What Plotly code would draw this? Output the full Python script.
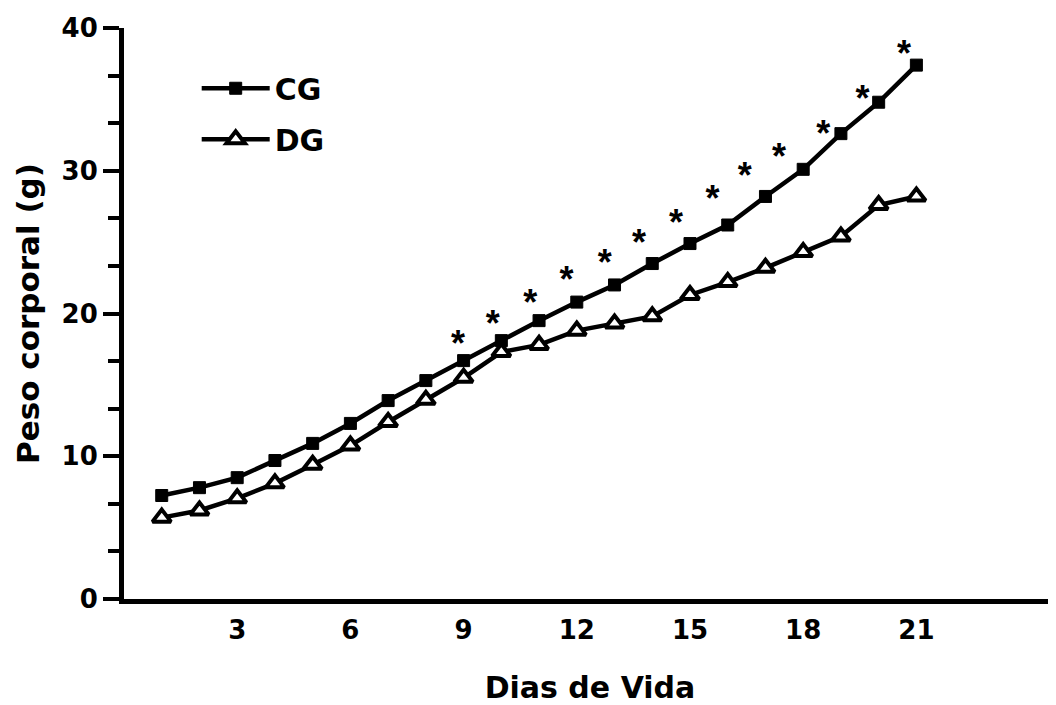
import plotly.graph_objects as go

# ---- data ----
days = list(range(1, 22))
cg = [7.25, 7.8, 8.5, 9.7, 10.9, 12.3, 13.9, 15.3, 16.7, 18.1, 19.5,
      20.8, 22.0, 23.5, 24.9, 26.2, 28.2, 30.1, 32.6, 34.8, 37.4]
dg = [5.7, 6.2, 7.05, 8.1, 9.4, 10.75, 12.4, 13.95, 15.5, 17.3, 17.8,
      18.8, 19.3, 19.8, 21.3, 22.2, 23.2, 24.3, 25.4, 27.6, 28.2]
# asterisk marks (significance), positions
star_x = [8.85, 9.77, 10.77, 11.73, 12.74, 13.65, 14.63, 15.6, 16.45,
          17.36, 18.53, 19.57, 20.67]
star_y = [18.1, 19.5, 21.0, 22.6, 23.8, 25.2, 26.6, 28.25, 29.9,
          31.2, 32.8, 35.3, 38.4]
x_ticks = [3, 6, 9, 12, 15, 18, 21]
y_ticks = [0, 10, 20, 30, 40]

FONT = "DejaVu Sans, Liberation Sans, Arial, sans-serif"
STAR_FONT = "Liberation Sans, Arial, sans-serif"
STAR_DY = 0.45  # glyph sits high in its text box; anchor slightly lower

fig = go.Figure()
fig.add_trace(go.Scatter(
    x=days, y=cg, name="CG", mode="lines+markers", legendgroup="cg",
    line=dict(color="black", width=4.5),
    marker=dict(symbol="square", size=12, color="black",
                line=dict(color="black", width=1)),
))
fig.add_trace(go.Scatter(
    x=days, y=dg, name="DG", mode="lines+markers", legendgroup="dg",
    line=dict(color="black", width=4.5),
    marker=dict(symbol="triangle-up", size=16, color="white",
                line=dict(color="black", width=4)),
))
fig.add_trace(go.Scatter(
    x=star_x, y=[v - STAR_DY for v in star_y], mode="text",
    text=["*"] * len(star_x),
    textposition="middle center", showlegend=False, hoverinfo="skip",
    textfont=dict(family=STAR_FONT, size=36, color="black", weight="bold"),
))

fig.update_layout(
    width=1048, height=697,
    margin=dict(l=116, r=0, t=20, b=106, autoexpand=False),
    paper_bgcolor="white", plot_bgcolor="white",
    font=dict(family=FONT, color="black", weight="bold"),
    showlegend=True,
    legend=dict(
        x=0.078, y=0.94, xref="paper", yref="paper",
        xanchor="left", yanchor="top",
        font=dict(family=FONT, size=30, color="black", weight="bold"),
        bgcolor="rgba(0,0,0,0)", borderwidth=0,
        tracegroupgap=9, itemwidth=68,
    ),
    xaxis=dict(
        range=[0, 24.7], tickmode="array", tickvals=x_ticks,
        ticktext=[str(v) for v in x_ticks],
        showgrid=False, zeroline=False, automargin=False,
        showline=True, linecolor="black", linewidth=5,
        ticks="outside", ticklen=4, tickcolor="rgba(0,0,0,0)",
        tickfont=dict(family=FONT, size=26, color="black", weight="bold"),
        title=dict(text="Dias de Vida", standoff=34,
                   font=dict(family=FONT, size=30, color="black", weight="bold")),
    ),
    yaxis=dict(
        range=[0, 40], tickmode="array", tickvals=y_ticks,
        ticktext=[str(v) for v in y_ticks],
        showgrid=False, zeroline=False, automargin=False,
        showline=True, linecolor="black", linewidth=5,
        ticks="outside", ticklen=16, tickwidth=4, tickcolor="black",
        minor=dict(dtick=10 / 3, tick0=0, ticks="outside", ticklen=11,
                   tickwidth=4, tickcolor="black", showgrid=False),
        tickfont=dict(family=FONT, size=26, color="black", weight="bold"),
        title=dict(text="Peso corporal (g)", standoff=14,
                   font=dict(family=FONT, size=31, color="black", weight="bold")),
    ),
)

fig.write_html("out.html")
